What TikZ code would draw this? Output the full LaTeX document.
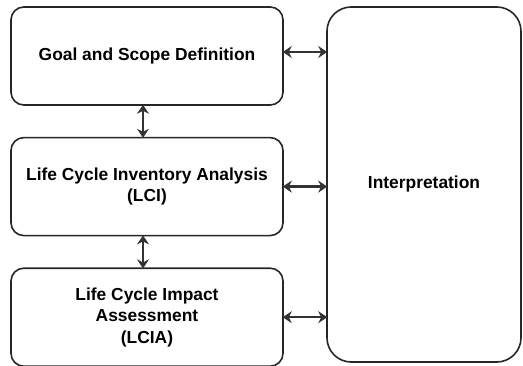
\documentclass[tikz,border=0pt]{standalone}
\usepackage{fontspec}
\setmainfont{Liberation Sans}
\usetikzlibrary{shapes,arrows.meta,positioning}

\tikzset{
  phase/.style={draw=black!85, line width=1.6pt, rounded corners=.45cm, align=center,
    minimum width=272pt, minimum height=98pt, inner sep=0pt,
    font=\fontsize{17.4}{21.5}\selectfont\bfseries},
  link/.style={{Stealth[length=9pt,width=12pt,inset=3pt]}-{Stealth[length=9pt,width=12pt,inset=3pt]},
    draw=black!80, fill=black!80, line width=2.4pt, shorten >=-1pt, shorten <=-1pt}
}

\begin{document}
\begin{tikzpicture}[x=1pt, y=1pt]
  \useasboundingbox (0,0) rectangle (523,365);

  \node [phase] (goal) at (147,309) {Goal and Scope Definition};
  \node [phase, below=31pt of goal] (lci) {Life Cycle Inventory Analysis\\(LCI)};
  \node [phase, below=31pt of lci] (lcia) {Life Cycle Impact\\Assessment\\(LCIA)};
  \node [phase, rounded corners=.85cm, minimum width=194pt, minimum height=355pt] (interp) at (424,180.5) {Interpretation};

  \draw [link] ([xshift=-4pt]goal.south) -- ([xshift=-4pt]lci.north);
  \draw [link] ([xshift=-4pt]lci.south) -- ([xshift=-4pt]lcia.north);

  \draw [link] ([yshift=4pt]goal.east) -- ([yshift=4pt]goal.east -| interp.west);
  \draw [link] (lci.east) -- (lci.east -| interp.west);
  \draw [link] (lcia.east) -- (lcia.east -| interp.west);
\end{tikzpicture}
\end{document}
